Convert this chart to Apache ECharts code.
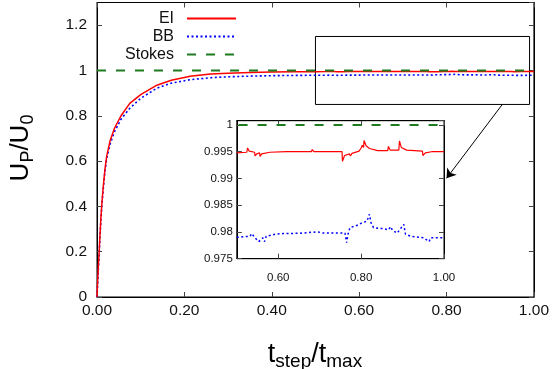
<!DOCTYPE html>
<html>
<head>
<meta charset="utf-8">
<script src="https://cdn.jsdelivr.net/npm/echarts@6/dist/echarts.min.js"></script>
<style>html,body{margin:0;padding:0;background:#fff}#c{width:552px;height:369px}</style>
</head>
<body>
<div id="c"></div>
<script>
// ---- data ----
const eiRiseT = [0, 0.001, 0.003, 0.005, 0.007, 0.009, 0.011, 0.014, 0.018, 0.022, 0.03, 0.04, 0.055, 0.075, 0.1, 0.137, 0.17, 0.213, 0.26, 0.3, 0.35, 0.4, 0.45];
const eiRiseU = [0, 0.05, 0.13, 0.2, 0.28, 0.35, 0.41, 0.48, 0.56, 0.62, 0.69, 0.745, 0.8, 0.855, 0.893, 0.935, 0.957, 0.974, 0.984, 0.988, 0.991, 0.993, 0.9944];
const eiPlateauT = [0.5, 0.524, 0.526, 0.53, 0.543, 0.544, 0.548, 0.555, 0.556, 0.56, 0.58, 0.62, 0.68, 0.682, 0.686, 0.754, 0.755, 0.76, 0.772, 0.774, 0.778, 0.795, 0.8, 0.803, 0.806, 0.807, 0.812, 0.82, 0.84, 0.864, 0.866, 0.87, 0.891, 0.8925, 0.897, 0.91, 0.948, 0.949, 0.955, 0.97, 1.0];
const eiPlateauU = [0.9948, 0.9949, 0.9957, 0.9951, 0.9949, 0.9942, 0.9946, 0.9948, 0.9941, 0.9946, 0.9949, 0.995, 0.995, 0.9954, 0.995, 0.995, 0.9932, 0.9943, 0.9946, 0.9942, 0.9947, 0.9951, 0.9957, 0.9962, 0.9958, 0.9971, 0.9961, 0.9956, 0.9952, 0.9952, 0.996, 0.9953, 0.9953, 0.997, 0.9958, 0.9953, 0.9951, 0.9943, 0.9948, 0.995, 0.995];
const bbRiseT = [0, 0.001, 0.003, 0.005, 0.007, 0.009, 0.011, 0.014, 0.018, 0.022, 0.03, 0.04, 0.055, 0.075, 0.1, 0.137, 0.17, 0.213, 0.26, 0.3, 0.35, 0.4, 0.45];
const bbRiseU = [0, 0.04, 0.12, 0.19, 0.27, 0.34, 0.4, 0.47, 0.55, 0.61, 0.675, 0.73, 0.785, 0.833, 0.877, 0.922, 0.944, 0.959, 0.968, 0.972, 0.975, 0.977, 0.978];
const bbPlateauT = [0.5, 0.532, 0.536, 0.544, 0.553, 0.563, 0.567, 0.571, 0.595, 0.612, 0.628, 0.66, 0.69, 0.692, 0.696, 0.708, 0.761, 0.765, 0.768, 0.773, 0.789, 0.802, 0.814, 0.82, 0.824, 0.83, 0.855, 0.866, 0.871, 0.876, 0.887, 0.903, 0.907, 0.919, 0.951, 0.964, 0.968, 1.0];
const bbPlateauU = [0.979, 0.9792, 0.9797, 0.9789, 0.9782, 0.9789, 0.9782, 0.9792, 0.9796, 0.9797, 0.9797, 0.9798, 0.98, 0.9803, 0.98, 0.9798, 0.9798, 0.978, 0.9795, 0.9808, 0.9812, 0.9817, 0.982, 0.9833, 0.9817, 0.9808, 0.9806, 0.9804, 0.981, 0.9803, 0.9798, 0.9814, 0.9796, 0.9792, 0.9789, 0.9782, 0.9789, 0.9789];
const stokesT = [0, 1];
const stokesU = [1, 1];
const zoomBox = [[0.5, 0.85], [0.99, 1.15]];
const arrowPts = [[0.928, 0.851], [0.80, 0.524]];
const insetXTicks = [0.6, 0.8, 1.0];
const seriesNames = ['EI', 'BB', 'Stokes'];

const zip = (a, b) => a.map((v, i) => [v, b[i]]);
const eiAll = zip(eiRiseT.concat(eiPlateauT), eiRiseU.concat(eiPlateauU));
const bbAll = zip(bbRiseT.concat(bbPlateauT), bbRiseU.concat(bbPlateauU));
const eiIn = zip(eiPlateauT, eiPlateauU);
const bbIn = zip(bbPlateauT, bbPlateauU);
const stokes = zip(stokesT, stokesU);

const FONT = 'Liberation Sans, Arial, sans-serif';
const RED = '#ff0000', BLUE = '#0000ff', GREEN = '#1e7b1e';

function ax(grid, pos, opts) {
  return Object.assign({
    type: 'value', gridIndex: grid, position: pos,
    axisLine: { show: true, onZero: false, lineStyle: { color: '#000', width: 1 } },
    axisTick: { show: true, inside: true, length: 5, lineStyle: { color: '#444' } },
    splitLine: { show: false },
  }, opts);
}

const option = {
  animation: false,
  backgroundColor: '#fff',
  grid: [
    { left: 97, top: 2.5, width: 437, height: 294.5, show: true, borderColor: '#000', borderWidth: 1, z: 0 },
    { left: 236.8, top: 120.7, width: 207.2, height: 138, show: true, backgroundColor: '#fff', borderColor: '#000', borderWidth: 1, z: 5 }
  ],
  xAxis: [
    ax(0, 'bottom', { min: 0, max: 1, interval: 0.2,
      axisLabel: { show: true, margin: 6, fontSize: 15.5, color: '#111', fontFamily: FONT, formatter: v => v.toFixed(2) } }),
    ax(0, 'top', { min: 0, max: 1, interval: 0.2, axisLabel: { show: false } }),
    ax(1, 'bottom', { min: 0.5, max: 1, interval: 0.1, z: 6,
      axisTick: { show: true, inside: true, length: 5, customValues: insetXTicks, lineStyle: { color: '#444' } },
      axisLabel: { show: true, margin: 13, fontSize: 11.5, color: '#111', fontFamily: FONT, customValues: insetXTicks, formatter: v => v.toFixed(2) } }),
    ax(1, 'top', { min: 0.5, max: 1, interval: 0.1, z: 6,
      axisTick: { show: true, inside: true, length: 5, customValues: insetXTicks, lineStyle: { color: '#444' } },
      axisLabel: { show: false } })
  ],
  yAxis: [
    ax(0, 'left', { min: 0, max: 1.3, interval: 0.2,
      axisLabel: { show: true, showMaxLabel: false, margin: 10, fontSize: 15.5, color: '#111', fontFamily: FONT, formatter: v => String(+v.toFixed(1)) } }),
    ax(0, 'right', { min: 0, max: 1.3, interval: 0.2, axisLabel: { show: false } }),
    ax(1, 'left', { min: 0.975, max: 1.0008, interval: 0.005, z: 6,
      axisLabel: { show: true, margin: 4, fontSize: 11.5, color: '#111', fontFamily: FONT, formatter: v => String(+v.toFixed(3)) } }),
    ax(1, 'right', { min: 0.975, max: 1.0008, interval: 0.005, z: 6, axisLabel: { show: false } })
  ],
  legend: seriesNames.map((n, i) => ({
    data: [n], right: 315, top: 10.5 + 18 * i, orient: 'vertical', align: 'right',
    itemWidth: 49, itemHeight: 14, padding: 0,
    itemStyle: { opacity: 0 },
    textStyle: { fontSize: 16, color: '#111', fontFamily: FONT, padding: [0, 8, 0, 0] }
  })),
  series: [
    { name: 'EI', type: 'line', xAxisIndex: 0, yAxisIndex: 0, data: eiAll, symbol: 'none', z: 3,
      lineStyle: { color: RED, width: 1.5 }, itemStyle: { color: RED },
      markArea: { silent: true, itemStyle: { color: 'rgba(0,0,0,0)', borderColor: '#000', borderWidth: 1 }, label: { show: false },
        data: [[{ coord: zoomBox[0] }, { coord: zoomBox[1] }]] },
      markLine: { silent: true, symbol: ['none', 'arrow'], symbolSize: 9, label: { show: false },
        lineStyle: { color: '#000', width: 1, type: 'solid' },
        data: [[{ coord: arrowPts[0] }, { coord: arrowPts[1] }]] } },
    { name: 'BB', type: 'line', xAxisIndex: 0, yAxisIndex: 0, data: bbAll, symbol: 'none', z: 2,
      lineStyle: { color: BLUE, width: 1.6, type: [2, 2.5] }, itemStyle: { color: BLUE } },
    { name: 'Stokes', type: 'line', xAxisIndex: 0, yAxisIndex: 0, data: stokes, symbol: 'none', z: 4,
      lineStyle: { color: GREEN, width: 2, type: [9, 10] }, itemStyle: { color: GREEN } },
    { name: 'EI', type: 'line', xAxisIndex: 2, yAxisIndex: 2, data: eiIn, symbol: 'none', z: 8,
      lineStyle: { color: RED, width: 1.2 } },
    { name: 'BB', type: 'line', xAxisIndex: 2, yAxisIndex: 2, data: bbIn, symbol: 'none', z: 8,
      lineStyle: { color: BLUE, width: 1.5, type: [2, 2.5] } },
    { name: 'Stokes', type: 'line', xAxisIndex: 2, yAxisIndex: 2, data: stokes, symbol: 'none', z: 8,
      lineStyle: { color: GREEN, width: 2, type: [9, 10] } },
    { type: 'line', xAxisIndex: 1, yAxisIndex: 1, data: [], symbol: 'none' },
    { type: 'line', xAxisIndex: 3, yAxisIndex: 3, data: [], symbol: 'none', z: 8 }
  ],
  graphic: [
    { type: 'text', x: 21, y: 148, rotation: Math.PI / 2, z: 10,
      style: { text: '{u|U}{s|P}{u|/U}{s|0}', align: 'center', verticalAlign: 'middle', fill: '#000',
        rich: { u: { fontSize: 26, fontFamily: FONT, lineHeight: 32, fill: '#000' },
                s: { fontSize: 18, fontFamily: FONT, lineHeight: 18, verticalAlign: 'bottom', fill: '#000' } } } },
    { type: 'text', x: 315, y: 355, z: 10,
      style: { text: '{u|t}{s|step}{u|/t}{s|max}', align: 'center', verticalAlign: 'middle', fill: '#000',
        rich: { u: { fontSize: 27, fontFamily: FONT, lineHeight: 32, fill: '#000' },
                s: { fontSize: 19, fontFamily: FONT, lineHeight: 19, verticalAlign: 'bottom', fill: '#000' } } } }
  ]
};
echarts.init(document.getElementById('c')).setOption(option);
</script>
</body>
</html>
